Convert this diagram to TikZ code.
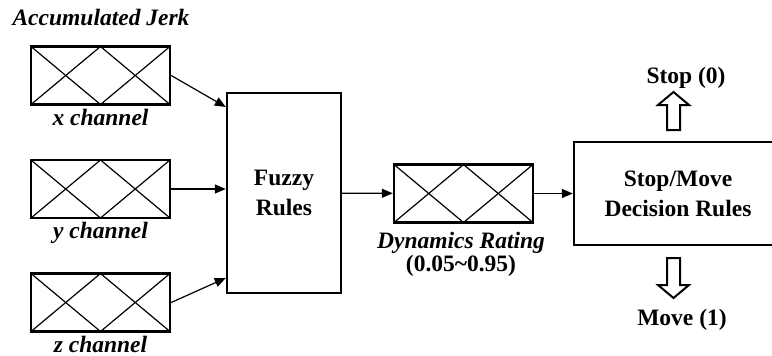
\documentclass[tikz,border=0pt]{standalone}
\usepackage{fontspec}
\setmainfont{Liberation Serif}
\usetikzlibrary{arrows.meta,positioning,calc}

\begin{document}
\begin{tikzpicture}[x=1pt, y=-1pt, >={Triangle[length=11pt,width=9pt]},
    block/.style={draw, line width=2.4pt, align=center, inner sep=0pt, font=\fontsize{23.5}{30}\selectfont\bfseries},
    crossbox/.style={draw, line width=2.4pt, minimum width=139pt, minimum height=58pt, inner sep=0pt,
      path picture={\draw[line width=1.2pt]
        (path picture bounding box.north west) -- (path picture bounding box.south) -- (path picture bounding box.north east)
        (path picture bounding box.south west) -- (path picture bounding box.north) -- (path picture bounding box.south east);}},
    caption/.style={font=\fontsize{23.5}{23}\selectfont\bfseries\itshape, align=center, inner sep=0pt},
    outlabel/.style={font=\fontsize{23.5}{23}\selectfont\bfseries, inner sep=0pt},
    flow/.style={->, line width=1.2pt},
    hollow/.style={draw, line width=2pt, line join=miter}]
    \clip (0,0) rectangle (772,356);

    % jerk inputs
    \node[caption, anchor=base] (jerk) at (101,25) {Accumulated Jerk};
    \node[crossbox] (xin) at (100.5,75.5) {};
    \node[crossbox] (yin) at (100.5,189) {};
    \node[crossbox] (zin) at (100.5,302.5) {};
    \node[caption, anchor=base] (xlab) at (100.5,125) {x channel};
    \node[caption, anchor=base] (ylab) at (100.5,238.5) {y channel};
    \node[caption, anchor=base] (zlab) at (100.5,352) {z channel};

    % rule blocks
    \node[block, minimum width=114pt, minimum height=200pt] (fuzzy) at (284,193) {Fuzzy\\Rules};
    \node[crossbox] (rating) at (463.5,193.5) {};
    \node[caption, anchor=north] (ratinglab) at (461,232) {Dynamics Rating\\\upshape(0.05\textasciitilde 0.95)};
    \node[block, minimum width=208pt, minimum height=103pt] (decide) at (678,193.5) {Stop/Move\\Decision Rules};

    \draw[flow] (xin.east) -- ($(fuzzy.north west)!0.075!(fuzzy.south west)$);
    \draw[flow] (yin.east) -- (yin.east -| fuzzy.west);
    \draw[flow] (zin.east) -- ($(fuzzy.north west)!0.92!(fuzzy.south west)$);
    \draw[flow] (fuzzy) -- (rating);
    \draw[flow] (rating) -- (decide);

    % outcomes
    \node[outlabel, anchor=base] (stop) at (686,83) {Stop (0)};
    \node[outlabel, anchor=base] (move) at (682,325) {Move (1)};
    \coordinate (uptip) at (673.5,92);
    \coordinate (downtip) at (673.5,298);
    \draw[hollow] (uptip) -- ++(15.5,13) -- ++(-9,0) -- ++(0,25) -- ++(-13,0) -- ++(0,-25) -- ++(-9,0) -- cycle;
    \draw[hollow] (downtip) -- ++(15.5,-13) -- ++(-9,0) -- ++(0,-27) -- ++(-13,0) -- ++(0,27) -- ++(-9,0) -- cycle;
\end{tikzpicture}
\end{document}
